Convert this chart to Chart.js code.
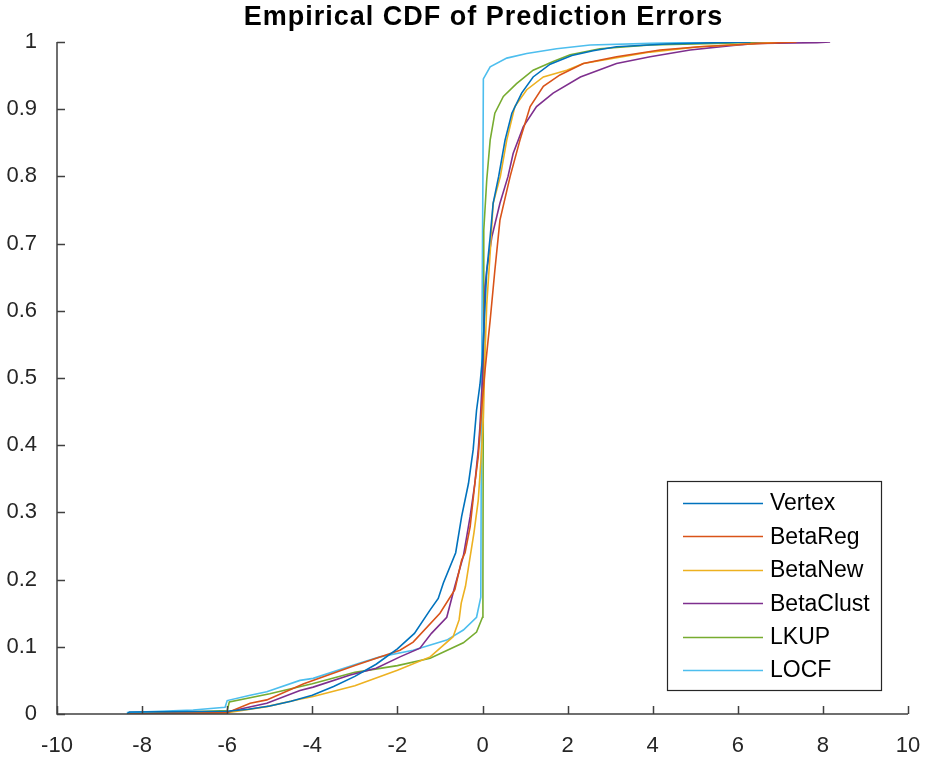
<!DOCTYPE html>
<html>
<head>
<meta charset="utf-8">
<script src="https://cdn.jsdelivr.net/npm/chart.js@4.4.1/dist/chart.umd.min.js"></script>
<style>
  html, body { margin: 0; padding: 0; background: #ffffff; }
  #wrap { width: 925px; height: 758px; }
</style>
</head>
<body>
<div id="wrap"><canvas id="c" width="925" height="758"></canvas></div>
<script>
// ---- Data ----
const chartTitle = "Empirical CDF of Prediction Errors";
const seriesNames = ["Vertex", "BetaReg", "BetaNew", "BetaClust", "LKUP", "LOCF"];
const seriesColors = ["#0072BD", "#D95319", "#EDB120", "#7E2F8E", "#77AC30", "#4DBEEE"];

const xTicks = [-10, -8, -6, -4, -2, 0, 2, 4, 6, 8, 10];
const yTicks = [0, 0.1, 0.2, 0.3, 0.4, 0.5, 0.6, 0.7, 0.8, 0.9, 1];

const vertexX = [-8.35, -8.3, -6.0, -5.5, -5.0, -4.5, -4.0, -3.5, -3.0, -2.5, -2.0, -1.6, -1.23, -1.04, -0.92, -0.63, -0.49, -0.33, -0.22, -0.14, -0.06, 0.0, 0.06, 0.1, 0.18, 0.25, 0.38, 0.53, 0.69, 0.92, 1.19, 1.59, 2.1, 2.6, 3.15, 4.33, 5.5, 6.3];
const vertexY = [0, 0.003, 0.004, 0.007, 0.012, 0.019, 0.028, 0.041, 0.056, 0.074, 0.097, 0.12, 0.155, 0.172, 0.195, 0.24, 0.294, 0.343, 0.393, 0.452, 0.49, 0.53, 0.61, 0.66, 0.71, 0.76, 0.80, 0.854, 0.894, 0.924, 0.948, 0.967, 0.98, 0.987, 0.993, 0.997, 0.999, 1.0];

const betaRegX = [-8.3, -6.0, -5.46, -5.07, -4.2, -3.0, -1.94, -1.63, -1.0, -0.65, -0.49, -0.41, -0.29, -0.18, -0.1, 0.0, 0.06, 0.18, 0.29, 0.41, 0.65, 0.88, 1.12, 1.43, 1.82, 2.37, 3.15, 4.17, 5.11, 6.29, 7.38];
const betaRegY = [0, 0.002, 0.016, 0.021, 0.045, 0.072, 0.095, 0.107, 0.15, 0.185, 0.229, 0.24, 0.279, 0.343, 0.383, 0.47, 0.512, 0.586, 0.66, 0.735, 0.80, 0.854, 0.904, 0.934, 0.951, 0.968, 0.978, 0.988, 0.993, 0.997, 1.0];

const betaNewX = [-8.3, -6.0, -5.07, -4.3, -3.98, -3.0, -2.0, -1.23, -0.69, -0.55, -0.5, -0.4, -0.3, -0.2, -0.1, -0.02, 0.02, 0.06, 0.1, 0.18, 0.25, 0.42, 0.57, 0.76, 1.04, 1.43, 1.98, 2.37, 3.94, 5.1, 7.06];
const betaNewY = [0, 0.002, 0.011, 0.022, 0.026, 0.042, 0.065, 0.085, 0.115, 0.14, 0.165, 0.19, 0.23, 0.27, 0.318, 0.393, 0.442, 0.537, 0.61, 0.686, 0.76, 0.80, 0.854, 0.904, 0.929, 0.948, 0.958, 0.968, 0.985, 0.993, 1.0];

const betaClustX = [-8.3, -6.0, -5.5, -5.07, -4.29, -3.98, -3.11, -2.5, -1.94, -1.47, -1.2, -0.84, -0.65, -0.45, -0.29, -0.18, -0.1, -0.06, 0.0, 0.06, 0.1, 0.22, 0.41, 0.6, 0.72, 0.96, 1.27, 1.66, 2.3, 3.15, 3.94, 4.88, 5.89, 6.44, 7.86, 8.17];
const betaClustY = [0, 0.003, 0.01, 0.016, 0.035, 0.04, 0.058, 0.068, 0.085, 0.098, 0.12, 0.144, 0.19, 0.235, 0.294, 0.343, 0.393, 0.428, 0.5, 0.636, 0.66, 0.71, 0.76, 0.80, 0.834, 0.874, 0.904, 0.924, 0.948, 0.968, 0.978, 0.988, 0.995, 0.998, 0.999, 1.0];

const lkupX = [-8.3, -6.0, -5.95, -5.0, -4.0, -3.0, -2.0, -1.23, -0.45, -0.14, 0.0, 0.01, 0.02, 0.03, 0.1, 0.18, 0.29, 0.49, 0.8, 1.19, 1.66, 2.06, 2.76, 3.94, 5.5, 6.76];
const lkupY = [0, 0.005, 0.018, 0.03, 0.045, 0.062, 0.072, 0.083, 0.106, 0.122, 0.144, 0.2, 0.5, 0.72, 0.795, 0.854, 0.894, 0.919, 0.938, 0.958, 0.971, 0.981, 0.99, 0.9955, 0.998, 1.0];

const locfX = [-8.36, -6.8, -6.05, -6.0, -5.46, -5.07, -4.29, -3.98, -2.88, -2.41, -1.63, -0.84, -0.45, -0.14, -0.04, -0.02, 0.01, 0.02, 0.18, 0.57, 1.04, 1.74, 2.53, 3.94, 5.5];
const locfY = [0.002, 0.006, 0.01, 0.02, 0.028, 0.033, 0.05, 0.053, 0.076, 0.085, 0.095, 0.11, 0.125, 0.144, 0.174, 0.5, 0.8, 0.945, 0.963, 0.976, 0.983, 0.99, 0.9955, 0.998, 1.0];

const seriesX = [vertexX, betaRegX, betaNewX, betaClustX, lkupX, locfX];
const seriesY = [vertexY, betaRegY, betaNewY, betaClustY, lkupY, locfY];

// ---- Build datasets ----
const datasets = seriesNames.map((name, i) => ({
  label: name,
  data: seriesX[i].map((x, k) => ({ x: x, y: seriesY[i][k] })),
  borderColor: seriesColors[i],
  backgroundColor: seriesColors[i],
  borderWidth: 1.6,
  pointRadius: 0,
  tension: 0,
  fill: false
}));

const AXIS_COLOR = "#404040";
const TEXT_COLOR = "#262626";
const FONT = "'Liberation Sans', Arial, Helvetica, sans-serif";

// Title centred over the axes (MATLAB style)
const axesTitle = {
  id: "axesTitle",
  afterDraw(chart) {
    const ctx = chart.ctx;
    const a = chart.chartArea;
    ctx.save();
    ctx.font = "bold 27px " + FONT;
    if ("letterSpacing" in ctx) ctx.letterSpacing = "1px";
    ctx.fillStyle = "#000000";
    ctx.textAlign = "center";
    ctx.textBaseline = "middle";
    ctx.fillText(chartTitle, (a.left + a.right) / 2 + 1, 18);
    ctx.restore();
  }
};

// Inward ticks (MATLAB style), drawn at the scales' own tick pixels
const inwardTicks = {
  id: "inwardTicks",
  afterDatasetsDraw(chart) {
    const ctx = chart.ctx;
    const xs = chart.scales.x, ys = chart.scales.y;
    const a = chart.chartArea;
    const len = 8;
    ctx.save();
    ctx.strokeStyle = AXIS_COLOR;
    ctx.lineWidth = 1.5;
    ctx.beginPath();
    xs.ticks.forEach(t => {
      const px = Math.round(xs.getPixelForValue(t.value)) + 0.5;
      ctx.moveTo(px, a.bottom);
      ctx.lineTo(px, a.bottom - len);
    });
    ys.ticks.forEach(t => {
      const py = Math.round(ys.getPixelForValue(t.value)) + 0.5;
      ctx.moveTo(a.left, py);
      ctx.lineTo(a.left + len, py);
    });
    ctx.stroke();
    ctx.beginPath();
    ctx.moveTo(a.left, a.top);
    ctx.lineTo(a.left, a.bottom);
    ctx.lineTo(a.right, a.bottom);
    ctx.stroke();
    ctx.restore();
  }
};

// Legend box inside the axes (lower right), drawn from dataset labels/colors
const boxLegend = {
  id: "boxLegend",
  afterDraw(chart) {
    const ctx = chart.ctx;
    const bx = 667, by = 481, bw = 214, bh = 209;
    ctx.save();
    ctx.fillStyle = "#ffffff";
    ctx.fillRect(bx, by, bw, bh);
    ctx.strokeStyle = "#262626";
    ctx.lineWidth = 1.2;
    ctx.strokeRect(bx + 0.5, by + 0.5, bw, bh);
    ctx.font = "23px " + FONT;
    ctx.textBaseline = "middle";
    ctx.textAlign = "left";
    chart.data.datasets.forEach((ds, i) => {
      const cy = by + 22 + i * 33.4;
      ctx.strokeStyle = ds.borderColor;
      ctx.lineWidth = 1.6;
      ctx.beginPath();
      ctx.moveTo(683, Math.round(cy) + 0.5);
      ctx.lineTo(763, Math.round(cy) + 0.5);
      ctx.stroke();
      ctx.fillStyle = "#000000";
      ctx.fillText(ds.label, 770, cy + 1);
    });
    ctx.restore();
  }
};

new Chart(document.getElementById("c"), {
  type: "line",
  data: { datasets: datasets },
  options: {
    responsive: false,
    animation: false,
    layout: { padding: { left: 0, right: 17, top: 42, bottom: 0 } },
    plugins: {
      legend: { display: false },
      tooltip: { enabled: false },
      title: { display: false }
    },
    scales: {
      x: {
        type: "linear",
        min: -10, max: 10,
        afterBuildTicks(scale) { scale.ticks = xTicks.map(v => ({ value: v })); },
        afterFit(scale) { scale.height = 44; scale.paddingLeft = 0; scale.paddingRight = 0; },
        grid: { display: false, drawTicks: false },
        border: { display: false },
        ticks: {
          color: TEXT_COLOR,
          font: { family: FONT, size: 22 },
          padding: 19,
          maxRotation: 0,
          callback: v => String(v)
        }
      },
      y: {
        type: "linear",
        min: 0, max: 1,
        afterBuildTicks(scale) { scale.ticks = yTicks.map(v => ({ value: v })); },
        afterFit(scale) { scale.width = 57; scale.paddingTop = 0; scale.paddingBottom = 0; },
        grid: { display: false, drawTicks: false },
        border: { display: false },
        ticks: {
          color: TEXT_COLOR,
          font: { family: FONT, size: 22 },
          padding: 20,
          callback: v => String(parseFloat(Number(v).toFixed(1)))
        }
      }
    }
  },
  plugins: [inwardTicks, boxLegend, axesTitle]
});
</script>
</body>
</html>
